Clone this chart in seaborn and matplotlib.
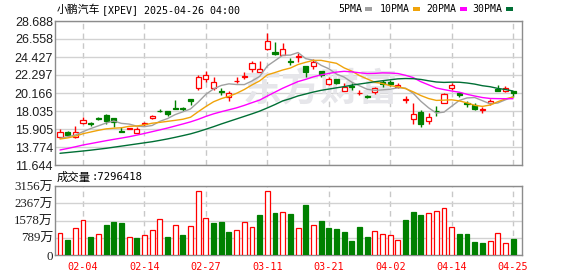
import numpy as np
import pandas as pd
import matplotlib
matplotlib.use("Agg")
import matplotlib.pyplot as plt
import seaborn as sns
from matplotlib.patches import Rectangle

sns.set_style("white")
plt.rcParams['font.family'] = ['Liberation Sans', 'Noto Sans CJK SC']

# ---------------- data ----------------
open_ = [14.99, 15.55, 14.99, 16.58, 16.58, 17.20, 17.53, 17.17, 15.67, 15.87,
         15.47, 16.50, 17.17, 18.07, 18.07, 18.35, 18.39, 19.42, 20.79, 21.79,
         20.72, 20.44, 19.66, 21.55, 22.09, 23.00, 22.69, 25.34, 24.98, 24.66,
         23.95, 24.43, 23.36, 23.36, 22.77, 21.20, 21.79, 20.44, 20.99, 20.13,
         19.81, 20.25, 21.50, 21.43, 20.84, 19.38, 17.09, 17.92, 16.89, 18.07,
         19.02, 20.79, 20.20, 18.95, 18.75, 18.15, 18.95, 20.60, 20.40, 20.40]
high = [15.91, 15.67, 16.26, 17.29, 16.77, 17.36, 17.68, 17.20, 16.11, 16.08,
        16.11, 16.77, 17.56, 18.24, 18.07, 19.34, 18.55, 19.42, 22.30, 22.77,
        22.10, 20.72, 20.40, 22.02, 22.69, 23.95, 23.95, 27.23, 26.17, 26.05,
        24.27, 24.87, 23.36, 24.15, 22.77, 22.02, 21.80, 21.31, 21.31, 20.52,
        19.93, 20.91, 21.70, 21.70, 21.31, 19.81, 18.99, 18.15, 17.76, 18.63,
        20.20, 21.31, 20.32, 19.22, 18.95, 18.47, 19.42, 21.11, 20.99, 20.40]
low = [14.80, 15.08, 14.80, 16.55, 16.30, 17.01, 16.50, 16.18, 15.58, 15.85,
       15.40, 16.30, 17.09, 17.92, 17.44, 18.30, 18.04, 18.71, 20.52, 21.50,
       20.52, 19.93, 19.22, 21.31, 21.79, 22.69, 22.69, 25.30, 24.66, 24.63,
       23.48, 23.87, 22.09, 22.97, 22.02, 21.15, 21.20, 20.40, 20.52, 19.93,
       19.54, 20.05, 20.91, 21.03, 20.72, 18.95, 16.46, 16.18, 16.46, 17.48,
       18.95, 20.52, 19.66, 18.55, 18.15, 17.76, 18.75, 20.44, 20.32, 19.73]
close = [15.52, 15.23, 15.59, 16.97, 16.50, 17.12, 16.89, 16.77, 15.59, 16.06,
         15.91, 16.58, 17.48, 18.00, 17.71, 18.30, 18.23, 19.18, 22.02, 22.30,
         21.50, 20.32, 20.13, 21.62, 22.21, 23.68, 23.00, 26.36, 24.75, 25.34,
         23.80, 24.55, 22.69, 23.87, 22.30, 21.79, 21.38, 20.91, 20.84, 20.20,
         19.73, 20.72, 21.23, 21.20, 21.11, 19.46, 17.65, 16.46, 17.36, 18.00,
         20.05, 21.11, 19.93, 18.83, 18.24, 18.22, 19.18, 20.44, 20.72, 20.13]

ma5 = [14.80, 14.99, 15.19, 15.59, 15.96, 16.28, 16.61, 16.85, 16.57, 16.49,
       16.24, 16.18, 16.32, 16.81, 17.14, 17.61, 17.94, 18.28, 19.09, 20.01,
       20.65, 21.06, 21.25, 21.17, 21.16, 21.59, 22.13, 23.37, 24.00, 24.63,
       24.65, 24.96, 24.23, 24.05, 23.44, 23.04, 22.41, 22.05, 21.44, 21.02,
       20.61, 20.48, 20.54, 20.61, 20.79, 20.74, 20.12, 19.18, 18.41, 17.79,
       17.90, 18.60, 19.29, 19.58, 19.63, 19.26, 18.88, 18.98, 19.36, 19.73]
ma10 = [14.72, 14.85, 15.05, 15.35, 15.55, 15.75, 15.92, 16.00, 16.05, 16.22,
        16.26, 16.40, 16.59, 16.69, 16.81, 16.93, 17.06, 17.30, 17.95, 18.57,
        19.13, 19.50, 19.77, 20.13, 20.58, 21.12, 21.60, 22.31, 22.59, 22.89,
        23.12, 23.54, 23.80, 24.03, 24.03, 23.85, 23.68, 23.14, 22.75, 22.23,
        21.83, 21.44, 21.29, 21.03, 20.91, 20.68, 20.30, 19.86, 19.51, 19.29,
        19.32, 19.36, 19.23, 19.00, 18.71, 18.58, 18.74, 19.13, 19.47, 19.68]
ma20 = [13.42, 13.60, 13.80, 14.01, 14.18, 14.35, 14.52, 14.68, 14.83, 14.99,
        15.18, 15.38, 15.59, 15.80, 16.02, 16.26, 16.50, 16.75, 17.05, 17.40,
        17.70, 17.95, 18.18, 18.41, 18.70, 19.02, 19.33, 19.81, 20.27, 20.73,
        21.13, 21.52, 21.78, 22.08, 22.31, 22.48, 22.64, 22.73, 22.67, 22.56,
        22.47, 22.49, 22.55, 22.53, 22.47, 22.26, 21.99, 21.50, 21.13, 20.76,
        20.57, 20.40, 20.26, 20.01, 19.81, 19.63, 19.52, 19.50, 19.49, 19.49]
ma30 = [13.03, 13.12, 13.21, 13.30, 13.40, 13.51, 13.62, 13.75, 13.88, 14.01,
        14.14, 14.27, 14.40, 14.56, 14.73, 14.92, 15.12, 15.33, 15.59, 15.88,
        16.18, 16.50, 16.80, 17.10, 17.40, 17.70, 18.02, 18.40, 18.80, 19.23,
        19.50, 19.82, 20.05, 20.28, 20.48, 20.63, 20.78, 20.92, 21.09, 21.23,
        21.36, 21.50, 21.62, 21.73, 21.84, 21.88, 21.86, 21.77, 21.61, 21.47,
        21.42, 21.45, 21.44, 21.35, 21.22, 21.03, 20.91, 20.71, 20.58, 20.40]

# volume in 万 shares
volume = [993, 686, 1220, 1586, 823, 945, 1372, 1509, 1464, 808,
          778, 899, 1128, 1631, 823, 1357, 915, 1311, 2912, 1677,
          1464, 1509, 1052, 1128, 1494, 1265, 1829, 2912, 1921, 1951,
          1880, 1220, 2287, 1357, 1555, 1235, 1189, 1052, 640, 1281,
          823, 1083, 945, 899, 671, 1601, 1967, 1845, 1906, 1997,
          2134, 1265, 960, 960, 595, 549, 625, 993, 534, 730]
vol_up = [1, 0, 1, 1, 0, 1, 0, 0, 0, 1,
          0, 1, 1, 1, 0, 1, 0, 1, 1, 1,
          0, 0, 0, 1, 1, 1, 0, 1, 0, 1,
          0, 1, 0, 1, 0, 0, 0, 0, 0, 0,
          0, 1, 1, 1, 1, 0, 0, 0, 1, 1,
          1, 1, 0, 0, 0, 0, 1, 1, 1, 0]

price_ticks = [11.644, 13.774, 15.905, 18.035, 20.166, 22.297, 24.427, 26.558, 28.688]
vol_ticks = [0, 789, 1578, 2367, 3156]
vol_tick_labels = ["0", "789万", "1578万", "2367万", "3156万"]
date_ticks = ["02-04", "02-14", "02-27", "03-11", "03-21", "04-02", "04-14", "04-25"]
title_cn = "小鹏汽车"
title_rest = "[XPEV] 2025-04-26 04:00"
last_volume = "7296418"
ma_names = ["5PMA", "10PMA", "20PMA", "30PMA"]

# trading days (US market, Presidents' Day and Good Friday closed)
days = pd.bdate_range("2025-01-30", "2025-04-25")
days = days[~days.isin(pd.to_datetime(["2025-02-17", "2025-04-18"]))]
day_labels = list(days.strftime("%m-%d"))

# ---------------- drawing ----------------
RED = "#ff0000"
GREEN = "#008000"
MA_COLORS = ["#a0a0a0", "#f0a30a", "#ff00ff", "#006f35"]
SPINE = "#8c8c8c"
GRID = "#d2d2d2"

W, H = 578, 276
fig = plt.figure(figsize=(W / 100, H / 100), dpi=100)


def rect(l, t, r, b):
    return [l / W, 1 - b / H, (r - l) / W, (b - t) / H]


ax = fig.add_axes(rect(55, 21, 522, 165))
axv = fig.add_axes(rect(55, 186, 522, 255), sharex=ax)

n = len(close)
x = np.arange(n)
o = np.array(open_)
c = np.array(close)
hi = np.array(high)
lo = np.array(low)
up = c >= o

tick_pos = [day_labels.index(d) for d in date_ticks]

for a in (ax, axv):
    a.set_axisbelow(True)
    for s in a.spines.values():
        s.set_color(SPINE)
        s.set_linewidth(1)
    a.set_xticks(tick_pos)
    a.xaxis.grid(True, color="#c8c8c8", lw=1, ls=(0, (4, 3)))
    a.yaxis.grid(True, color=GRID, lw=1, ls="-")
    a.tick_params(length=0)
    a.set_xlim(-0.65, n + 0.16)

# watermark
ax.text(320 / W, 1 - 90 / H, "东方财富", transform=fig.transFigure, ha="center", va="center",
        fontsize=28, fontweight="bold", color="#e6e6ea", family=["Noto Sans CJK SC"], zorder=1)

# candles
cols = np.where(up, RED, GREEN)
ax.vlines(x, lo, hi, colors=cols, lw=1, zorder=3)
body_h = np.maximum(np.abs(c - o), 0.04)
ax.bar(x, body_h, bottom=np.minimum(o, c), width=0.66,
       color=np.where(up, "white", GREEN), edgecolor=cols, linewidth=0.9, zorder=4)

# moving averages
for vals, col in zip([ma5, ma10, ma20, ma30], MA_COLORS):
    sns.lineplot(x=x, y=vals, ax=ax, color=col, lw=1, zorder=5, legend=False)

ax.set_ylim(price_ticks[0], price_ticks[-1])
ax.set_yticks(price_ticks)
ax.set_yticklabels([f"{v:.3f}" for v in price_ticks], fontsize=9, color="#1e1e1e")
ax.tick_params(axis="y", pad=1.5)
ax.tick_params(axis="x", labelbottom=False)
ax.set_xlabel("")
ax.set_ylabel("")

# volume
vup = np.array(vol_up) == 1
axv.bar(x, volume, width=0.64, color=np.where(vup, "white", GREEN),
        edgecolor=np.where(vup, RED, GREEN), linewidth=0.9, zorder=3)
axv.set_ylim(0, vol_ticks[-1])
axv.set_yticks(vol_ticks)
axv.set_yticklabels(vol_tick_labels, fontsize=9.3, color="#1e1e1e",
                    family=["Liberation Serif", "Noto Sans CJK SC"])
axv.set_xticklabels(date_ticks, fontsize=7.3, color=RED, family=["DejaVu Sans Mono"])
axv.tick_params(axis="y", pad=1.5)
axv.tick_params(axis="x", pad=5)

# title
fig.text(57 / W, 1 - 10 / H, title_cn, ha="left", va="center", fontsize=7.8,
         family=["Noto Sans CJK SC"], color="#000000")
fig.text(102 / W, 1 - 10 / H, title_rest, ha="left", va="center", fontsize=7.2,
         family=["DejaVu Sans Mono"], color="#000000")

# legend
leg_text_x = [338, 380, 426, 472]
leg_box_x = [365, 413, 460, 506]
for name, tx, bx, col in zip(ma_names, leg_text_x, leg_box_x, MA_COLORS):
    fig.text(tx / W, 1 - 9.5 / H, name, ha="left", va="center", fontsize=7.1,
             family=["DejaVu Sans Mono"], color="#000000")
    fig.add_artist(Rectangle((bx / W, 1 - 11 / H), 7 / W, 4 / H,
                             transform=fig.transFigure, color=col, lw=0))

# volume label
fig.text(57 / W, 1 - 177 / H, "成交量", ha="left", va="center", fontsize=8.2,
         family=["Noto Sans CJK SC"], color="#000000")
fig.text(91 / W, 1 - 177 / H, ":" + last_volume, ha="left", va="center", fontsize=7.6,
         family=["DejaVu Sans Mono"], color="#000000")

fig.savefig("out.png", dpi=100)
